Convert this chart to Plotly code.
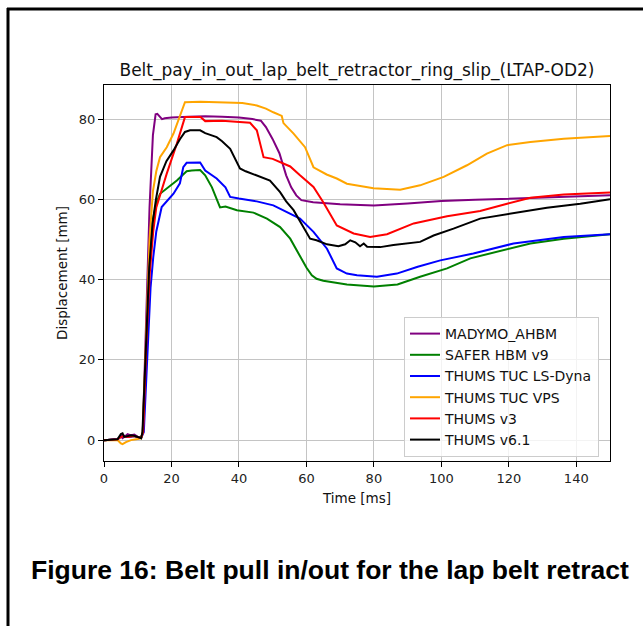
import plotly.graph_objects as go

# ---- time histories (t in ms, displacement in mm) ----
madymo_t = [0, 4, 5, 5.5, 6, 7, 8, 9, 10, 11, 11.5, 12.5, 13.5, 14.5, 15.3, 15.8, 16.5, 17.2, 18, 20, 25, 30,
            35, 40, 44, 46.5, 48, 50, 52, 54, 55.5, 57, 58.5, 62, 70, 80, 90, 100, 110, 120, 130, 140, 150]
madymo_v = [0, 0.2, 1, 0.5, 0.8, 1.5, 1.2, 1.4, 0.8, 0.6, 2, 30, 58, 76, 81.2, 81.3, 80.5, 80, 80.2, 80.4, 80.6,
            80.7, 80.6, 80.4, 80, 79.6, 78, 75, 71.5, 66, 63, 61, 59.8, 59.3, 58.8, 58.5, 59, 59.6, 59.9, 60.2,
            60.5, 60.8, 61]

safer_t = [0, 4, 5.5, 7, 9, 11, 11.5, 12.5, 13.5, 14.5, 15.5, 16.6, 18.6, 21.6, 24.5, 26, 28.5, 30, 32, 34.4,
           36, 39.4, 44.3, 48.3, 52.2, 55.2, 58, 60, 61.6, 63, 65, 72, 80, 87, 93.7, 101.7, 108.6, 116.5, 126.4,
           136.3, 150]
safer_v = [0, 0.2, 1.2, 0.8, 1, 0.5, 2, 25, 45, 55, 59, 61.4, 62.7, 64.7, 67, 67.2, 67.3, 66, 63, 58, 58.2, 57.3,
           56.7, 55.2, 53.1, 50.2, 46, 43, 41.1, 40.2, 39.7, 38.8, 38.3, 38.8, 40.7, 42.8, 45.3, 46.9, 49, 50.2,
           51.3]

tuc_ls_t = [0, 4, 5.5, 7, 9, 11, 11.8, 12.8, 13.8, 14.6, 15.5, 17.1, 20.6, 22.5, 23.5, 24.5, 28.5, 30, 33.4, 36,
            37.4, 40, 45.3, 50.2, 52.2, 55.2, 58.1, 62.1, 66.1, 69, 72, 75, 80.9, 86.8, 93, 99.7, 109.5, 121.4,
            136.3, 150]
tuc_ls_v = [0, 0.2, 1.2, 0.8, 1, 0.5, 2, 20, 38, 45.6, 52, 58.1, 61.4, 64, 68, 69.1, 69.2, 67.2, 65.2, 63, 60.6,
            60.2, 59.5, 58.5, 57.7, 56.4, 55.2, 51.9, 47.7, 42.8, 41.5, 41.1, 40.7, 41.5, 43.2, 44.8, 46.5, 49,
            50.6, 51.3]

tuc_vps_t = [0, 4, 5, 5.5, 6.5, 8, 10, 11, 11.5, 12.5, 13.5, 14.5, 15.5, 16.6, 18.6, 20.6, 22.5, 24, 28.6, 35,
             41, 45.3, 48, 50.2, 52.7, 53.2, 55, 56.2, 59.6, 62.1, 66, 69, 72, 79.9, 87.8, 93.7, 100.7, 107.6,
             113.5, 119.5, 126.4, 136.3, 150]
tuc_vps_v = [0, 0, -0.8, -1, -0.5, 0, 0.3, 0.5, 2, 28, 50, 62, 67, 70.5, 73, 76.4, 80.5, 84.2, 84.3, 84.2, 84,
             83.4, 82.6, 81.7, 80.8, 79, 77.5, 76.4, 73, 68, 66.2, 65.2, 63.9, 62.8, 62.4, 63.5, 65.6, 68.5, 71.4,
             73.5, 74.3, 75.1, 75.8]

thums3_t = [0, 4, 5.5, 7, 9, 11, 11.6, 12.6, 13.6, 14.6, 15.5, 18.6, 21.6, 24, 28.6, 30, 35, 41, 43.3, 45.3,
            47.3, 50, 52.2, 55.2, 58.1, 62.1, 65, 69, 74, 78.9, 83.9, 91.8, 101.7, 111.5, 119.5, 126.4, 136.3, 150]
thums3_v = [0, 0.2, 1, 0.8, 1, 0.5, 2, 25, 42, 52, 58, 66.4, 73.9, 80.5, 80.5, 79.5, 79.6, 79.3, 79.1, 77.2, 70.5,
            70.1, 69.3, 68.2, 66, 63.1, 59.3, 53.5, 51.5, 50.6, 51.3, 54, 55.8, 57.1, 58.9, 60.4, 61.2, 61.7]

thums61_t = [0, 4, 5, 5.5, 6, 7, 8, 9, 10, 11, 11.4, 12.4, 13.4, 14.4, 15.4, 16.6, 18.5, 20.6, 22.5, 24, 25.5,
             28.5, 30, 33.4, 35, 37.4, 40.3, 42, 45.3, 49.2, 52.2, 54, 56.2, 59.1, 61.1, 63, 66.1, 69.5, 71.5, 73,
             74.5, 75.9, 77, 78, 81.9, 85.8, 93.7, 97.7, 103.6, 111.5, 121.4, 131.3, 141.2, 150]
thums61_v = [0, 0.2, 1.5, 1.7, 0.8, 1, 1.2, 1.1, 0.8, 0.5, 2, 25, 43, 54, 60, 65.6, 69.5, 72.2, 75, 76.8, 77.2,
             77.2, 76.5, 75.5, 74.5, 72.6, 67.7, 67, 66, 64.7, 61.8, 59.5, 57.3, 53.1, 50.2, 49.8, 48.8, 48.3,
             48.8, 49.8, 49.3, 48.3, 49, 48.2, 48.1, 48.6, 49.4, 51, 52.7, 55.2, 56.6, 57.9, 58.9, 60]

series = [
    ("MADYMO_AHBM", madymo_t, madymo_v, "#800080"),
    ("SAFER HBM v9", safer_t, safer_v, "#008000"),
    ("THUMS TUC LS-Dyna", tuc_ls_t, tuc_ls_v, "#0000ff"),
    ("THUMS TUC VPS", tuc_vps_t, tuc_vps_v, "#ffa500"),
    ("THUMS v3", thums3_t, thums3_v, "#ff0000"),
    ("THUMS v6.1", thums61_t, thums61_v, "#000000"),
]

x_ticks = [0, 20, 40, 60, 80, 100, 120, 140]
y_ticks = [0, 20, 40, 60, 80]

W, H = 643, 626
L, R, T, B = 104, 610, 85, 461  # plot area in pixels


def px(x):
    return (x - L) / (R - L)


def py(y):
    return (B - y) / (B - T)


fig = go.Figure()
for name, t, v, c in series:
    fig.add_trace(go.Scatter(x=t, y=v, mode="lines", name=name,
                             line=dict(color=c, width=2)))

font = "DejaVu Sans, sans-serif"
axis_common = dict(showline=True, mirror=True, linecolor="black", linewidth=1,
                   ticks="outside", ticklen=5, tickcolor="black", tickwidth=1,
                   showgrid=True, gridcolor="#c4c4c4", gridwidth=1, zeroline=False,
                   tickfont=dict(family=font, size=13, color="#222"))

fig.update_layout(
    width=W, height=H,
    margin=dict(l=L, r=W - R, t=T, b=H - B, pad=0),
    paper_bgcolor="white", plot_bgcolor="white",
    title=dict(text="Belt_pay_in_out_lap_belt_retractor_ring_slip_(LTAP-OD2)",
               x=(L + R) / 2 / W, xanchor="center", xref="container",
               y=1 - 70 / H, yanchor="middle", yref="container",
               font=dict(family=font, size=17, color="#111")),
    xaxis=dict(range=[0, 150], tickvals=x_ticks,
               title=dict(text="Time [ms]", font=dict(family=font, size=13.5, color="#111"), standoff=8),
               **axis_common),
    yaxis=dict(range=[-5.2, 88.5], tickvals=y_ticks,
               title=dict(text="Displacement [mm]", font=dict(family=font, size=13.5, color="#111"), standoff=8),
               **axis_common),
    legend=dict(x=px(404), y=py(317), xanchor="left", yanchor="top",
                bgcolor="rgba(255,255,255,0.8)", bordercolor="#cccccc", borderwidth=1,
                font=dict(family=font, size=14, color="#111"), tracegroupgap=0),
    showlegend=True,
)

# page frame (top and left rules)
fig.add_shape(type="line", xref="paper", yref="paper",
              x0=px(7), x1=px(W + 5), y0=py(9), y1=py(9),
              line=dict(color="black", width=3))
fig.add_shape(type="line", xref="paper", yref="paper",
              x0=px(8), x1=px(8), y0=py(8), y1=py(H + 5),
              line=dict(color="black", width=3))

# figure caption
fig.add_annotation(text="<b>Figure 16: Belt pull in/out for the lap belt retract</b>",
                   xref="paper", yref="paper", x=px(29), y=py(570),
                   xanchor="left", yanchor="middle", showarrow=False,
                   font=dict(family="Liberation Sans, Arial, sans-serif", size=26.5, color="black"))

fig.write_html("out.html")
